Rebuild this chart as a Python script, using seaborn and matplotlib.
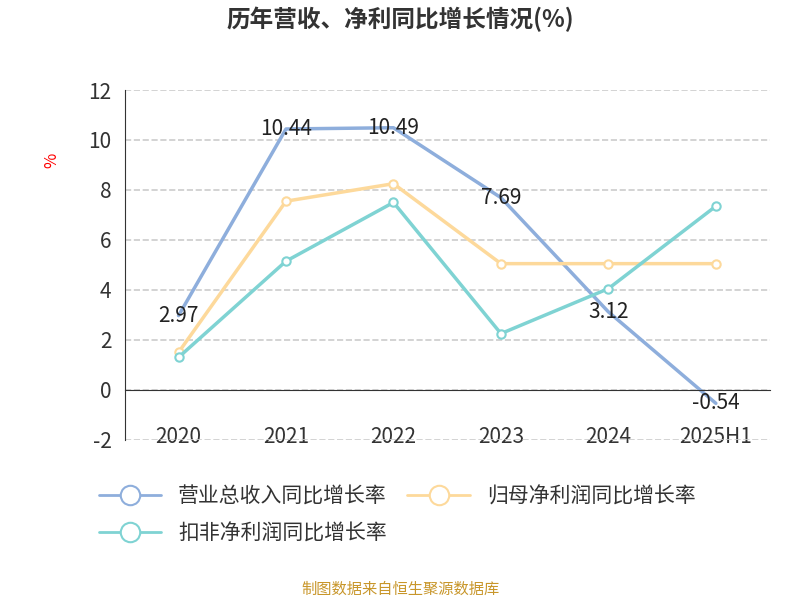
import matplotlib
matplotlib.use("Agg")
import matplotlib.pyplot as plt
import seaborn as sns
import pandas as pd
from matplotlib.lines import Line2D

sns.set_style("white")
plt.rcParams['font.family'] = ['Noto Sans CJK SC', 'DejaVu Sans']
plt.rcParams['axes.unicode_minus'] = False

years = ['2020', '2021', '2022', '2023', '2024', '2025H1']
revenue = [2.97, 10.44, 10.49, 7.69, 3.12, -0.54]
net_profit = [1.5, 7.55, 8.25, 5.05, 5.05, 5.05]
deducted = [1.3, 5.15, 7.5, 2.25, 4.05, 7.35]
names = ['营业总收入同比增长率', '归母净利润同比增长率', '扣非净利润同比增长率']
colors = ['#8eaedc', '#fdd99b', '#7fd3d3']

df = pd.DataFrame({'x': list(range(6)) * 3,
                   'v': revenue + net_profit + deducted,
                   's': [names[0]] * 6 + [names[1]] * 6 + [names[2]] * 6})

fig = plt.figure(figsize=(8, 6), dpi=100)
ax = fig.add_axes([0.156, 0.267, 0.806, 0.583])
for name, c, mk in zip(names, colors, [False, True, True]):
    d = df[df.s == name]
    sns.lineplot(data=d, x='x', y='v', color=c, lw=2.5, ax=ax, legend=False,
                 marker='o' if mk else None, markersize=6,
                 markerfacecolor='white', markeredgecolor=c, markeredgewidth=1.5)
for i, v in enumerate(revenue):
    ax.text(i, v, f'{v:.2f}', ha='center', va='center', fontsize=15, color='#222')

ax.set_xlim(-0.5, 5.5)
ax.set_ylim(-2, 12)
ax.set_yticks(range(-2, 13, 2))
ax.set_xticks(range(6))
ax.set_xticklabels(years)
ax.set_xticks([i + 0.5 for i in range(-1, 6)], minor=True)
ax.tick_params(axis='x', which='major', length=0, pad=26, labelsize=15, labelcolor='#333')
ax.tick_params(axis='x', which='minor', length=6, color='#333', direction='in')
ax.tick_params(axis='y', labelsize=15, labelcolor='#333', length=6, color='#333')
ax.yaxis.grid(True, ls='--', color='#ccc', lw=1.2)
ax.spines['top'].set_visible(False)
ax.spines['right'].set_visible(False)
ax.spines['bottom'].set_position(('data', 0))
ax.spines['bottom'].set_color('#333')
ax.spines['left'].set_color('#333')
ax.set_xlabel('')
ax.set_ylabel('%', color='red', fontsize=12, rotation=90)
ax.yaxis.set_label_coords(-0.1, 0.8)

fig.text(0.5, 0.955, '历年营收、净利同比增长情况(%)', ha='center', fontsize=17, fontweight='bold', color='#333')
handles = [Line2D([], [], color=c, lw=2, marker='o', markersize=14,
                  markerfacecolor='white', markeredgecolor=c, markeredgewidth=1.5) for c in colors]
order = [0, 2, 1]
fig.legend([handles[i] for i in order], [names[i] for i in order], loc='upper left',
           bbox_to_anchor=(0.1, 0.222), ncol=2, frameon=False, fontsize=15,
           handlelength=3, columnspacing=1, labelspacing=0.7, labelcolor='#333')
fig.text(0.5, 0.01, '制图数据来自恒生聚源数据库', ha='center', fontsize=11, color='#c8962a')
fig.savefig('out.png', dpi=100)
